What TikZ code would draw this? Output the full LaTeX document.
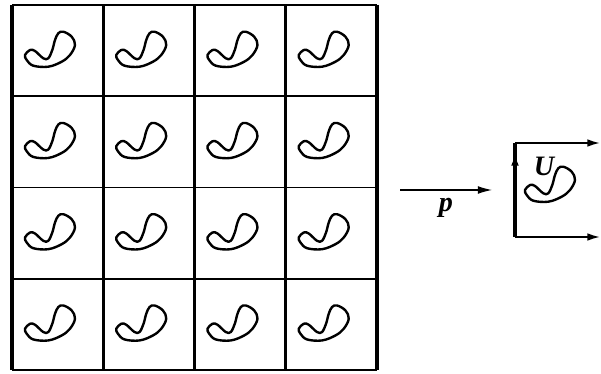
\documentclass[tikz,border=0pt]{standalone}
\usepackage{fontspec}
\usepackage{tikz}
\usetikzlibrary{arrows.meta}
\newfontfamily\labelfont{Liberation Serif}
\begin{document}
\begin{tikzpicture}[x=0.025cm, y=-0.025cm,
  gridv/.style={line width=2.3pt},
  gridh/.style={line width=1.4pt},
  curl/.style={line width=1.7pt, line join=round},
  maparrow/.style={-{Latex[length=10pt,width=5.5pt]}, line width=0.8pt},
  edgearrow/.style={-{Latex[length=9pt,width=5.5pt]}, line width=1.3pt},
  lbl/.style={font=\labelfont\bfseries\itshape\fontsize{20}{24}\selectfont}
]
\useasboundingbox (0,0) rectangle (601,374);
% grid of translated domains
\foreach \i in {0,...,4} {
  \draw[gridv] (12+91.25*\i,5) -- (12+91.25*\i,370);
  \draw[gridh] (12,5+91.25*\i) -- (377,5+91.25*\i);
}
% one curl in every cell
\foreach \c in {0,...,3}
  \foreach \r in {0,...,3}
    \draw[curl, shift={(12+91.25*\c,5+91.25*\r)}] plot[smooth cycle, tension=0.6]
      coordinates {(51.3,26.7) (59.7,31.7) (63,40) (58,50) (49.7,56.7) (36.3,61.7) (21.3,60.7) (14.7,55) (13,50) (18,45) (23,46) (31.3,53.3) (36.3,53.3) (40.3,45) (43,35) (46.3,28.3)};
% projection p
\coordinate (pfrom) at (400,190);
\coordinate (pto) at (492,190);
\draw[maparrow] (pfrom) -- node[below=2pt, lbl] {p} (pto);
% the quotient square U
\coordinate (Ubl) at (515,237);
\coordinate (Utl) at (515,143);
\coordinate (Uup) at (515,153);
\coordinate (Utr) at (600,143);
\coordinate (Ubr) at (600,237);
\draw[line width=2.3pt] (Ubl) -- (Utl);
\draw[edgearrow, line width=2.3pt] (Ubl) -- (Uup);
\draw[edgearrow] (Utl) -- (Utr);
\draw[edgearrow] (Ubl) -- (Ubr);
\draw[curl, shift={(512,140)}] plot[smooth cycle, tension=0.6]
  coordinates {(51.3,26.7) (59.7,31.7) (63,40) (58,50) (49.7,56.7) (36.3,61.7) (21.3,60.7) (14.7,55) (13,50) (18,45) (23,46) (31.3,53.3) (36.3,53.3) (40.3,45) (43,35) (46.3,28.3)};
\node[lbl] (U) at (544,166) {U};
\end{tikzpicture}
\end{document}
